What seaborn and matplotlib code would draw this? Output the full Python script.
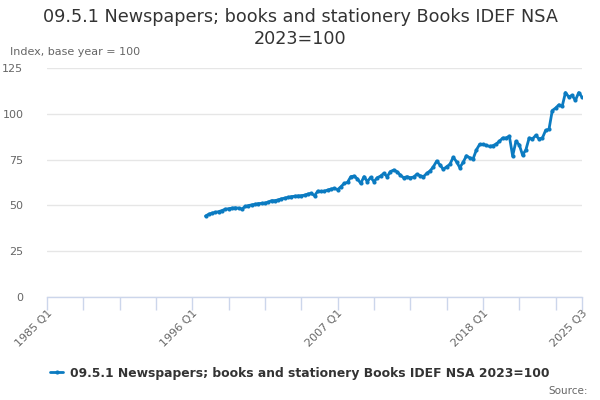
import pandas as pd
import matplotlib.pyplot as plt
import seaborn as sns

# quarterly index values, first value is 1997 Q1, last is 2025 Q3
first_year = 1997
axis_start_year = 1985
index_values = [
    44.2, 45.2, 45.8, 46.2, 46.6, 47.2, 47.9, 48.2, 48.5, 48.7,
    48.5, 48.0, 49.4, 49.9, 50.3, 50.6, 51.0, 51.1, 51.3, 51.8,
    52.6, 52.6, 53.0, 53.6, 54.0, 54.4, 54.8, 55.0, 55.2, 55.3,
    55.6, 56.2, 56.6, 55.3, 57.8, 57.6, 57.8, 58.4, 58.9, 59.3,
    58.6, 60.2, 62.0, 62.6, 65.7, 66.0, 64.5, 62.0, 65.7, 63.0,
    65.3, 63.0, 65.1, 66.0, 67.5, 65.7, 68.5, 69.3, 68.4, 66.5,
    65.1, 65.7, 65.1, 65.5, 67.0, 66.2, 65.7, 67.5, 68.8, 71.1,
    74.2, 72.1, 69.7, 71.1, 72.4, 76.3, 73.9, 70.6, 73.5, 77.1,
    76.0, 75.3, 80.2, 83.3, 83.3, 82.8, 82.2, 82.6, 83.5, 85.0,
    86.8, 86.8, 87.8, 77.0, 85.0, 83.1, 77.5, 80.3, 86.8, 86.3,
    88.2, 86.3, 86.8, 91.0, 91.5, 101.8, 103.1, 104.9, 104.1, 111.6,
    109.2, 110.1, 107.3, 111.6, 109.2,
]
tick_labels = ["1985 Q1", "1996 Q1", "2007 Q1", "2018 Q1", "2025 Q3"]
series_name = "09.5.1 Newspapers; books and stationery Books IDEF NSA 2023=100"

# quarter position counted from 1985 Q1
offset = (first_year - axis_start_year) * 4
df = pd.DataFrame({
    "pos": [offset + k for k in range(len(index_values))],
    "value": index_values,
})
last_pos = df["pos"].max()

sns.set_style("white")
plt.rcParams["font.family"] = ["DejaVu Sans"]

blue = "#0b7bc1"
fig = plt.figure(figsize=(6, 4), dpi=100)
ax = fig.add_axes([47 / 600, 1 - 297 / 400, (582 - 47) / 600, (297 - 68) / 400])

sns.lineplot(data=df, x="pos", y="value", ax=ax, color=blue, linewidth=2,
             marker="o", markersize=3, markeredgewidth=0, label=series_name)

ax.set_xlim(0, last_pos)
ax.set_ylim(0, 125)
ax.set_yticks([0, 25, 50, 75, 100, 125])
ax.yaxis.grid(True, color="#e6e6e6", linewidth=1)
ax.set_axisbelow(True)
ax.tick_params(axis="y", length=0, labelsize=8, labelcolor="#666666", pad=17)
for lbl in ax.get_yticklabels():
    lbl.set_horizontalalignment("right")

# ticks every 11 quarters, labelled every 44, plus the last quarter
minor = list(range(0, last_pos, 11)) + [last_pos]
ax.set_xticks(minor)
ax.set_xticklabels([""] * len(minor))
label_pos = [0, 44, 88, 132, last_pos]
for p, t in zip(label_pos, tick_labels):
    ax.text(p, -0.05, t, transform=ax.get_xaxis_transform(), rotation=45,
            ha="right", va="top", fontsize=8, color="#666666", rotation_mode="anchor")
ax.tick_params(axis="x", bottom=True, length=9, width=1, color="#ccd6eb", direction="out")

for s in ["top", "right", "left"]:
    ax.spines[s].set_visible(False)
ax.spines["bottom"].set_color("#ccd6eb")
ax.spines["bottom"].set_linewidth(1)
ax.set_xlabel("")
ax.set_ylabel("")

fig.text(0.5, 1 - 17 / 400, "09.5.1 Newspapers; books and stationery Books IDEF NSA",
         ha="center", va="center", fontsize=12.7, color="#333333")
fig.text(0.5, 1 - 39 / 400, "2023=100", ha="center", va="center", fontsize=12.7, color="#333333")
fig.text(10 / 600, 1 - 52 / 400, "Index, base year = 100", ha="left", va="center",
         fontsize=8, color="#666666")
fig.text(588 / 600, 1 - 391 / 400, "Source:", ha="right", va="center",
         fontsize=7.5, color="#666666")

ax.get_legend().remove()
handles, labels = ax.get_legend_handles_labels()
fig.legend(handles, labels, loc="center", bbox_to_anchor=(0.5, 1 - 373 / 400),
           frameon=False, prop={"weight": "bold", "size": 8.9}, handlelength=1.0,
           handletextpad=0.6, labelcolor="#333333")

fig.savefig("out.png", dpi=100)
